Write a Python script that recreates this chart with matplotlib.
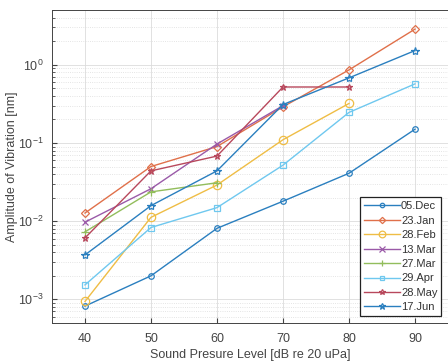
import numpy as np
import matplotlib
matplotlib.use("Agg")
import matplotlib.pyplot as plt

plt.rcParams['font.family'] = ['Liberation Sans', 'DejaVu Sans']

spl = [40, 50, 60, 70, 80, 90]

dec05 = [8.2e-4, 0.0020, 0.0081, 0.018, 0.041, 0.15]
jan23 = [0.0127, 0.050, 0.090, 0.29, 0.86, 2.86]
feb28 = [9.4e-4, 0.0112, 0.029, 0.11, 0.32]
mar13 = [0.0097, 0.026, 0.097, 0.30]
mar27 = [0.0073, 0.0237, 0.031]
apr29 = [0.00153, 0.0083, 0.0149, 0.052, 0.246, 0.57]
may28 = [0.0061, 0.044, 0.068, 0.52, 0.52]
jun17 = [0.0037, 0.0158, 0.044, 0.31, 0.68, 1.52]

labels = ['05.Dec', '23.Jan', '28.Feb', '13.Mar', '27.Mar', '29.Apr', '28.May', '17.Jun']
series = [dec05, jan23, feb28, mar13, mar27, apr29, may28, jun17]
colors = ['#2a7fbf', '#e0704a', '#efbd45', '#9a5aa8', '#92bd5c', '#6fc8ef', '#b8485c', '#2a7fbf']
markers = ['o', 'D', 'o', 'x', '+', 's', '*', '*']
msizes = [4, 4, 6, 5, 6, 4, 5, 6]

fig = plt.figure(figsize=(4.48, 3.62), dpi=100)
ax = fig.add_axes([0.116, 0.108, 0.884, 0.864])

for y, lab, c, m, ms in zip(series, labels, colors, markers, msizes):
    ax.plot(spl[:len(y)], y, color=c, marker=m, markersize=ms,
            markerfacecolor='none', markeredgewidth=0.9, linewidth=1.0, label=lab)

ax.set_yscale('log')
ax.set_xlim(35, 95)
ax.set_ylim(5e-4, 5)
ax.set_xticks(spl)
ax.grid(True, which='major', color='#dcdcdc', linewidth=0.6)
ax.grid(True, which='minor', axis='y', color='#dcdcdc', linestyle=':', linewidth=0.6)
ax.tick_params(which='both', direction='in', labelsize=9, colors='#444444')
ax.tick_params(axis='x', pad=7)
ax.tick_params(axis='y', pad=6)
ax.tick_params(which='minor', length=2)
for s in ax.spines.values():
    s.set_color('#444444')
    s.set_linewidth(0.7)

ax.set_xlabel('Sound Presure Level [dB re 20 uPa]', fontsize=9, color='#444444', labelpad=3)
ax.set_ylabel('Amplitude of Vibration [nm]', fontsize=9, color='#444444', labelpad=0)

leg = ax.legend(loc='lower right', fontsize=8, fancybox=False, framealpha=1,
                edgecolor='#222222', borderpad=0.35, labelspacing=0.4,
                handlelength=3.2, handletextpad=0.1, borderaxespad=0.6,
                markerscale=0.8)
leg.get_frame().set_linewidth(0.9)
for t in leg.get_texts():
    t.set_color('#333333')

fig.savefig('out.png', dpi=100)
